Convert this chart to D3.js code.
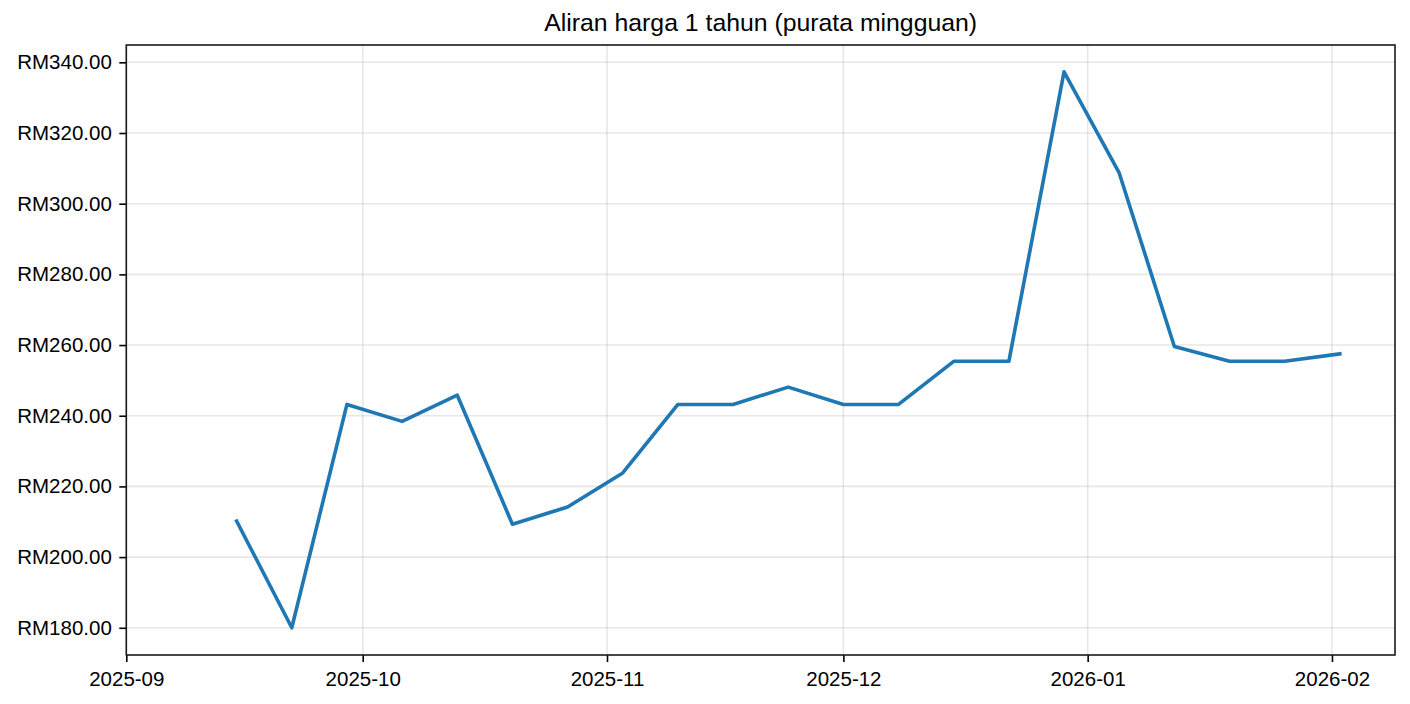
<!DOCTYPE html>
<html>
<head>
<meta charset="utf-8">
<script src="https://cdn.jsdelivr.net/npm/d3@7"></script>
<style>
  html, body { margin: 0; padding: 0; background: #fff; }
  svg { display: block; }
  text { font-family: "Liberation Sans", Arial, sans-serif; fill: #000; }
</style>
</head>
<body>
<svg id="chart" width="1410" height="704"></svg>
<script>
const title = "Aliran harga 1 tahun (purata mingguan)";
const weeks = ["2025-09-15","2025-09-22","2025-09-29","2025-10-06","2025-10-13","2025-10-20","2025-10-27",
               "2025-11-03","2025-11-10","2025-11-17","2025-11-24","2025-12-01","2025-12-08","2025-12-15",
               "2025-12-22","2025-12-29","2026-01-05","2026-01-12","2026-01-19","2026-01-26","2026-02-02"];
const prices = [210.2, 180.0, 243.2, 238.4, 245.8, 209.3, 214.2,
                223.8, 243.2, 243.2, 248.1, 243.2, 243.2, 255.4,
                255.4, 337.3, 308.7, 259.6, 255.4, 255.4, 257.5];
const yTicks = [180, 200, 220, 240, 260, 280, 300, 320, 340];
const xTicks = ["2025-09-01","2025-10-01","2025-11-01","2025-12-01","2026-01-01","2026-02-01"];
const xDomain = ["2025-09-01","2026-02-09"];
const yDomain = [172.3, 344.9];

const parse = d3.utcParse("%Y-%m-%d");
const data = weeks.map((w, i) => ({ date: parse(w), value: prices[i] }));

const svg = d3.select("#chart");
const m = { left: 126.3, right: 1395, top: 45, bottom: 655 };

const x = d3.scaleUtc().domain(xDomain.map(parse)).range([m.left, m.right]);
const y = d3.scaleLinear().domain(yDomain).range([m.bottom, m.top]);

// grid
const grid = svg.append("g");
grid.selectAll("line.gx").data(xTicks.map(parse)).join("line")
  .attr("x1", d => x(d)).attr("x2", d => x(d))
  .attr("y1", m.top).attr("y2", m.bottom)
  .attr("stroke", "#b0b0b0").attr("stroke-opacity", 0.3).attr("stroke-width", 1.6);
grid.selectAll("line.gy").data(yTicks).join("line")
  .attr("y1", d => y(d)).attr("y2", d => y(d))
  .attr("x1", m.left).attr("x2", m.right)
  .attr("stroke", "#b0b0b0").attr("stroke-opacity", 0.3).attr("stroke-width", 1.6);

// line
const line = d3.line().x(d => x(d.date)).y(d => y(d.value));
svg.append("path").datum(data)
  .attr("d", line)
  .attr("fill", "none")
  .attr("stroke", "#1f77b4")
  .attr("stroke-width", 3.6)
  .attr("stroke-linejoin", "round")
  .attr("stroke-linecap", "square");

// axes
const fmtY = d => "RM" + d3.format(".2f")(d);
const xAxis = d3.axisBottom(x).tickValues(xTicks.map(parse)).tickFormat(d3.utcFormat("%Y-%m"))
  .tickSizeInner(7).tickSizeOuter(0).tickPadding(9.5);
const yAxis = d3.axisLeft(y).tickValues(yTicks).tickFormat(fmtY)
  .tickSizeInner(7).tickSizeOuter(0).tickPadding(7.5);

const gx = svg.append("g").attr("transform", `translate(0,${m.bottom})`).call(xAxis);
const gy = svg.append("g").attr("transform", `translate(${m.left},0)`).call(yAxis);
[gx, gy].forEach(g => {
  g.select(".domain").remove();
  g.selectAll(".tick line").attr("stroke", "#000").attr("stroke-width", 1.6);
  g.selectAll(".tick text").attr("font-size", "20.5px").attr("fill", "#000")
    .attr("font-family", "'Liberation Sans', Arial, sans-serif");
});

// frame
svg.append("rect")
  .attr("x", m.left).attr("y", m.top)
  .attr("width", m.right - m.left).attr("height", m.bottom - m.top)
  .attr("fill", "none").attr("stroke", "#1a1a1a").attr("stroke-width", 1.6);

// title
svg.append("text")
  .attr("x", (m.left + m.right) / 2).attr("y", 31)
  .attr("text-anchor", "middle")
  .attr("font-size", "24.8px")
  .text(title);
</script>
</body>
</html>
